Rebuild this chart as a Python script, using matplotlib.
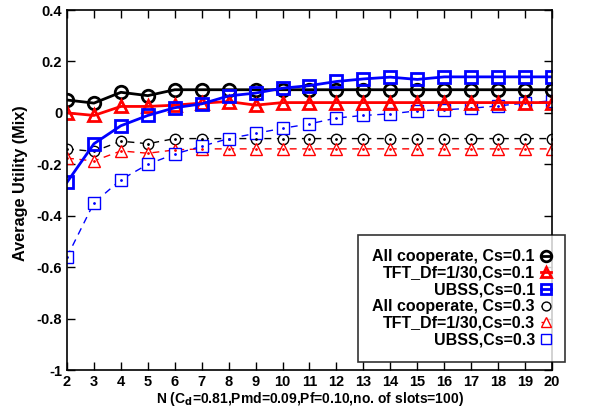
import numpy as np
import matplotlib
matplotlib.use('Agg')
import matplotlib.pyplot as plt

plt.rcParams['font.family'] = ['Liberation Sans', 'DejaVu Sans']
plt.rcParams['font.weight'] = 'bold'

N = list(range(2, 21))

# Cs=0.1
coop_01 = [0.05, 0.038, 0.08, 0.067, 0.09, 0.09, 0.09, 0.09, 0.09, 0.09, 0.09, 0.09, 0.09, 0.09, 0.09, 0.09, 0.09, 0.09, 0.09]
tft_01 = [0.0, -0.01, 0.025, 0.025, 0.03, 0.038, 0.044, 0.03, 0.04, 0.04, 0.04, 0.04, 0.04, 0.04, 0.04, 0.04, 0.04, 0.04, 0.04]
ubss_01 = [-0.27, -0.12, -0.05, -0.01, 0.02, 0.035, 0.066, 0.077, 0.096, 0.106, 0.122, 0.132, 0.139, 0.13, 0.14, 0.14, 0.14, 0.14, 0.14]
# Cs=0.3
coop_03 = [-0.14, -0.15, -0.11, -0.12, -0.10, -0.10, -0.10, -0.10, -0.10, -0.10, -0.10, -0.10, -0.10, -0.10, -0.10, -0.10, -0.10, -0.10, -0.10]
tft_03 = [-0.176, -0.187, -0.148, -0.157, -0.144, -0.14, -0.14, -0.14, -0.14, -0.14, -0.14, -0.14, -0.14, -0.14, -0.14, -0.14, -0.14, -0.14, -0.14]
ubss_03 = [-0.56, -0.35, -0.26, -0.20, -0.16, -0.13, -0.10, -0.08, -0.06, -0.043, -0.02, -0.01, -0.004, 0.008, 0.012, 0.018, 0.027, 0.038, 0.047]

labels = ['All cooperate, Cs=0.1', 'TFT_Df=1/30,Cs=0.1', 'UBSS,Cs=0.1',
          'All cooperate, Cs=0.3', 'TFT_Df=1/30,Cs=0.3', 'UBSS,Cs=0.3']

fig = plt.figure(figsize=(6.02, 4.12), dpi=100)
ax = fig.add_axes([0.1113, 0.1019, 0.8056, 0.8738])

# dashed (Cs=0.3) series, white-filled open markers with centre dot
ax.plot(N, coop_03, color='black', ls=(0, (5, 4)), lw=1, marker='o', ms=7.5, mfc='white', mew=1, label=labels[3])
ax.plot(N, tft_03, color='red', ls=(0, (5, 4)), lw=1, marker='^', ms=8, mfc='white', mew=1, label=labels[4])
ax.plot(N, ubss_03, color='blue', ls=(0, (5, 4)), lw=1, marker='s', ms=8, mfc='white', mew=1, label=labels[5])
for y, c in [(coop_03, 'black'), (tft_03, 'red'), (ubss_03, 'blue')]:
    ax.plot(N, y, ls='none', marker='.', ms=2, color=c)

# solid (Cs=0.1) series
ax.plot(N, coop_01, color='black', lw=2, marker='o', ms=9, mfc='none', mew=2, label=labels[0])
ax.plot(N, tft_01, color='red', lw=2, marker='^', ms=9, mfc='none', mew=2, label=labels[1])
ax.plot(N, ubss_01, color='blue', lw=2, marker='s', ms=9, mfc='none', mew=2, label=labels[2])

ax.set_xlim(2, 20)
ax.set_ylim(-1, 0.4)
ax.set_xticks(N)
ax.set_yticks([-1, -0.8, -0.6, -0.4, -0.2, 0, 0.2, 0.4])
ax.set_yticklabels(['-1', '-0.8', '-0.6', '-0.4', '-0.2', '0', '0.2', '0.4'])
ax.tick_params(direction='in', top=True, right=True, length=6, width=1, labelsize=10.5)
for s in ax.spines.values():
    s.set_linewidth(1.2)

ax.set_xlabel('N (C$_\\mathbf{d}$=0.81,Pmd=0.09,Pf=0.10,no. of slots=100)', fontsize=10, fontweight='bold', labelpad=1)
ax.set_ylabel('Average Utility (Mix)', fontsize=11.7, fontweight='bold')
ax.yaxis.set_label_coords(-0.080, 0.52)

h, l = ax.get_legend_handles_labels()
order = [3, 4, 5, 0, 1, 2]
leg = ax.legend([h[i] for i in order], [l[i] for i in order], loc='upper left',
                bbox_to_anchor=(358 / 602, 1 - 235 / 412), bbox_transform=fig.transFigure,
                markerfirst=False, handlelength=0.6, fancybox=False, edgecolor='black',
                fontsize=11.5, labelspacing=0.1, borderpad=0.9, handletextpad=0.4,
                markerscale=0.85, borderaxespad=0)
leg.get_frame().set_linewidth(1.2)
for t in leg.get_texts():
    t.set_ha('right')
leg._legend_box.align = 'right'

fig.savefig('out.png', dpi=100)
